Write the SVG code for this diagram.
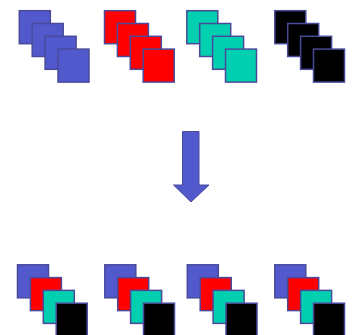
<svg xmlns="http://www.w3.org/2000/svg" width="355" height="335" viewBox="0 0 355 335">
<style>
.sq{stroke:#4a4a9a;stroke-width:1.5}
.b{fill:#5159CC}.r{fill:#FF0000}.t{fill:#00D0B0}.k{fill:#000000}
</style>
<rect width="355" height="335" fill="#ffffff"/>
<g id="top-blue"><rect class="sq b" x="19.3" y="10.7" width="31" height="33"/><rect class="sq b" x="32.2" y="23.5" width="31" height="33"/><rect class="sq b" x="45.1" y="36.3" width="31" height="33"/><rect class="sq b" x="58" y="49.1" width="31" height="33"/></g>
<g id="top-red"><rect class="sq r" x="104.5" y="10.7" width="31" height="33"/><rect class="sq r" x="117.4" y="23.5" width="31" height="33"/><rect class="sq r" x="130.3" y="36.3" width="31" height="33"/><rect class="sq r" x="143.2" y="49.1" width="31" height="33"/></g>
<g id="top-teal"><rect class="sq t" x="186.8" y="10.7" width="31" height="33"/><rect class="sq t" x="199.7" y="23.5" width="31" height="33"/><rect class="sq t" x="212.6" y="36.3" width="31" height="33"/><rect class="sq t" x="225.5" y="49.1" width="31" height="33"/></g>
<g id="top-black"><rect class="sq k" x="274.8" y="10.7" width="31" height="33"/><rect class="sq k" x="287.7" y="23.5" width="31" height="33"/><rect class="sq k" x="300.6" y="36.3" width="31" height="33"/><rect class="sq k" x="313.5" y="49.1" width="31" height="33"/></g>
<g id="arrow"><polygon points="182.5,131.5 199,131.5 199,185 209,185 191,202 173.5,185 182.5,185" fill="#5159CC" stroke="#4a4a9a" stroke-width="1"/></g>
<g id="bottom-1"><rect class="sq b" x="17.5" y="264.8" width="31" height="33"/><rect class="sq r" x="30.4" y="277.6" width="31" height="33"/><rect class="sq t" x="43.3" y="290.4" width="31" height="33"/><rect class="sq k" x="56.2" y="303.2" width="31" height="33"/></g>
<g id="bottom-2"><rect class="sq b" x="104.8" y="264.8" width="31" height="33"/><rect class="sq r" x="117.7" y="277.6" width="31" height="33"/><rect class="sq t" x="130.6" y="290.4" width="31" height="33"/><rect class="sq k" x="143.5" y="303.2" width="31" height="33"/></g>
<g id="bottom-3"><rect class="sq b" x="187.3" y="264.8" width="31" height="33"/><rect class="sq r" x="200.2" y="277.6" width="31" height="33"/><rect class="sq t" x="213.1" y="290.4" width="31" height="33"/><rect class="sq k" x="226" y="303.2" width="31" height="33"/></g>
<g id="bottom-4"><rect class="sq b" x="274.8" y="264.8" width="31" height="33"/><rect class="sq r" x="287.7" y="277.6" width="31" height="33"/><rect class="sq t" x="300.6" y="290.4" width="31" height="33"/><rect class="sq k" x="313.5" y="303.2" width="31" height="33"/></g>
</svg>
